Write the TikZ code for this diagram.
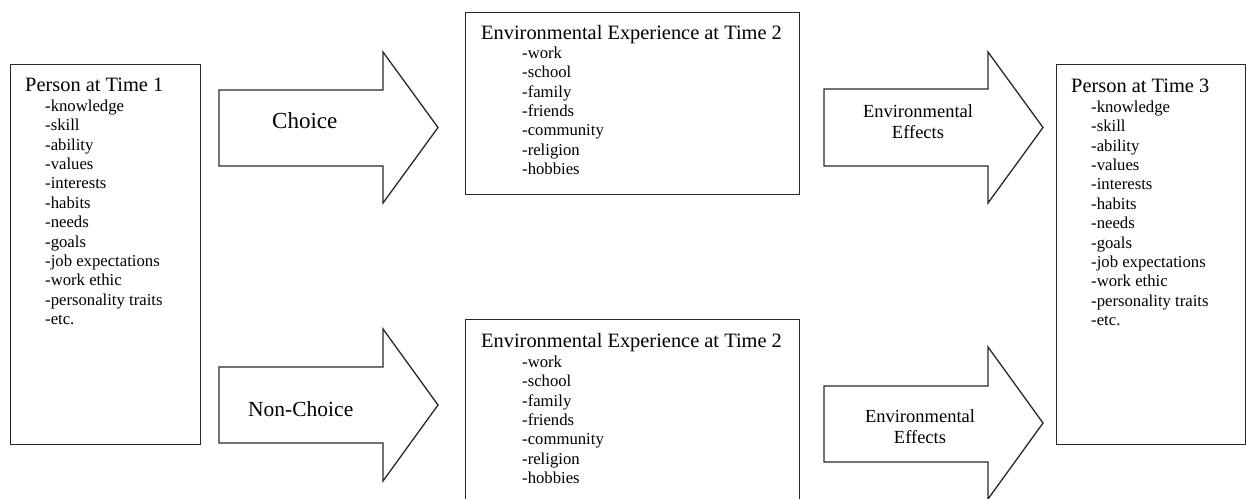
\documentclass[tikz,border=0pt]{standalone}
\usepackage{fontspec}
\setmainfont{Liberation Serif}
\begin{document}
\begin{tikzpicture}[x=1pt,y=-1pt,
  linecol/.style={draw={rgb,255:red,40;green,40;blue,40}, line width=1.3pt},
  box/.style={linecol, rectangle, inner sep=0pt, anchor=north west},
  blockarrow/.style={linecol, fill=white, line join=miter},
  titletext/.style={inner sep=0pt, anchor=base west, font=\fontsize{20.4}{24}\selectfont},
  itemtext/.style={inner sep=0pt, anchor=north west, align=left, font=\fontsize{16.7}{19.4}\selectfont},
  arrowlabel/.style={inner sep=0pt, anchor=base west},
  efflabel/.style={inner sep=0pt, anchor=north, align=center, font=\fontsize{18.5}{21}\selectfont}]
\useasboundingbox (0,0) rectangle (1246,498);
\clip (0,0) rectangle (1246,498);

% Person at Time 1
\node[box, minimum width=190pt, minimum height=380pt] (p1) at (10,64) {};
\node[titletext] (p1t) at (25,91.7) {Person at Time 1};
\node[itemtext] (p1i) at (45,99.6) {-knowledge\\-skill\\-ability\\-values\\-interests\\-habits\\-needs\\-goals\\-job expectations\\-work ethic\\-personality traits\\-etc.};

% Environmental Experience (top)
\node[box, minimum width=334pt, minimum height=182pt] (e1) at (465,12) {};
\node[titletext] (e1t) at (481,39) {Environmental Experience at Time 2};
\node[itemtext] (e1i) at (522,46.6) {-work\\-school\\-family\\-friends\\-community\\-religion\\-hobbies};

% Environmental Experience (bottom)
\node[box, minimum width=334pt, minimum height=184pt] (e2) at (465,319) {};
\node[titletext] (e2t) at (481,347) {Environmental Experience at Time 2};
\node[itemtext] (e2i) at (522,355.6) {-work\\-school\\-family\\-friends\\-community\\-religion\\-hobbies};

% Person at Time 3
\node[box, minimum width=189pt, minimum height=380pt] (p3) at (1056,64) {};
\node[titletext] (p3t) at (1071,92) {Person at Time 3};
\node[itemtext] (p3i) at (1091,100.6) {-knowledge\\-skill\\-ability\\-values\\-interests\\-habits\\-needs\\-goals\\-job expectations\\-work ethic\\-personality traits\\-etc.};

% Choice arrow
\draw[blockarrow] (219,90) -- (383,90) -- (383,52) -- (438,127.5) -- (383,203) -- (383,166) -- (219,166) -- cycle;
\node[arrowlabel, font=\fontsize{23}{26}\selectfont] (ch) at (272,128) {Choice};

% Non-Choice arrow
\draw[blockarrow] (219,367) -- (383,367) -- (383,329) -- (438,405) -- (383,481) -- (383,443) -- (219,443) -- cycle;
\node[arrowlabel, font=\fontsize{21.5}{25}\selectfont] (nch) at (248,416) {Non-Choice};

% Environmental Effects arrows
\draw[blockarrow] (824,89) -- (988,89) -- (988,52) -- (1043,127.5) -- (988,203) -- (988,166) -- (824,166) -- cycle;
\node[efflabel] (ee1) at (918,104.4) {Environmental\\Effects};

\draw[blockarrow] (824,386) -- (988,386) -- (988,347) -- (1043,423) -- (988,499) -- (988,462) -- (824,462) -- cycle;
\node[efflabel] (ee2) at (920,409.4) {Environmental\\Effects};
\end{tikzpicture}
\end{document}
